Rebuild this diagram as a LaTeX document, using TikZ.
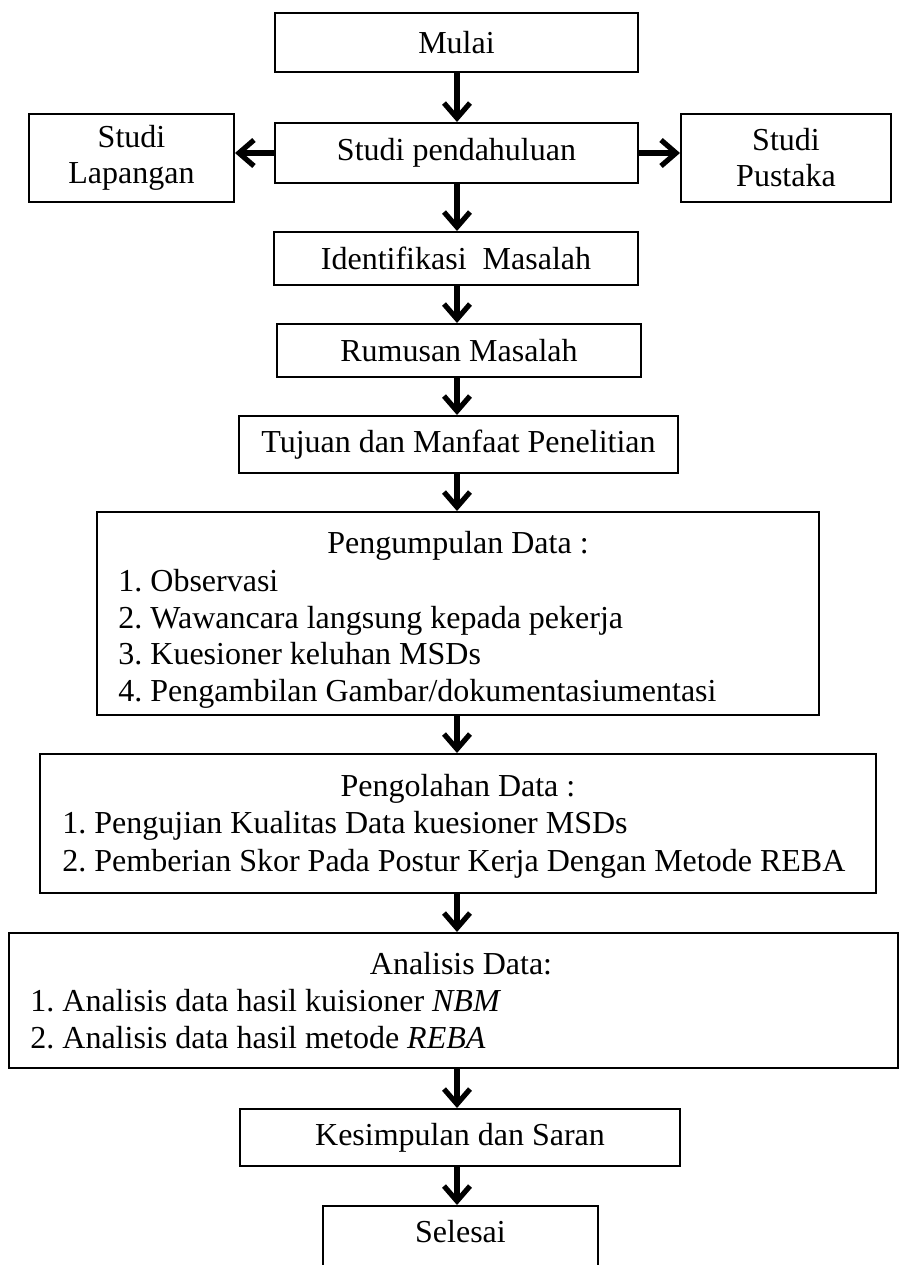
\documentclass[tikz,border=0pt]{standalone}
\usepackage{fontspec}
\setmainfont{Liberation Serif}
\usetikzlibrary{arrows.meta}
\frenchspacing
\begin{document}
\begin{tikzpicture}[x=0.5pt,y=-0.5pt,
  box/.style={draw=black, line width=1pt, rectangle, inner sep=0pt, align=center, font=\fontsize{16pt}{18.4pt}\selectfont},
  txt/.style={inner sep=0pt, font=\fontsize{16pt}{18.4pt}\selectfont},
  arr/.style={line width=2.6pt, -{Straight Barb[length=7.5pt,width=13pt]}}]
\clip (0,0) rectangle (901,1265);
\fill[white] (0,0) rectangle (901,1265);
\coordinate (ax) at (457,0);
% single-line boxes
\node[box, minimum width=181.5pt, minimum height=29.5pt] (mulai) at (456.5,42.5) {Mulai};
\node[box, minimum width=181.5pt, minimum height=30pt] (sp) at (456.5,153) {Studi pendahuluan};
\node[box, minimum width=102.5pt, minimum height=44pt, font=\fontsize{16pt}{18pt}\selectfont] (lap) at (131.5,158) {Studi\\Lapangan};
\node[box, minimum width=105pt, minimum height=44pt, font=\fontsize{16pt}{18pt}\selectfont] (pus) at (786,158) {Studi\\Pustaka};
\node[box, minimum width=182pt, minimum height=26.5pt] (ident) at (456,258.5) {Identifikasi\ \ Masalah};
\node[box, minimum width=182pt, minimum height=26.5pt] (rum) at (459,350.5) {Rumusan Masalah};
\node[box, minimum width=219.5pt, minimum height=28.5pt] (tuj) at (458.5,444.5) {Tujuan dan Manfaat Penelitian};
% multi-line boxes
\node[box, minimum width=361pt, minimum height=101.5pt] (pengum) at (458,613.5) {};
\node[txt, anchor=base] (pengumT) at (458,553) {Pengumpulan Data :};
\node[txt, anchor=base west] (pengum1) at (118,591) {1. Observasi};
\node[txt, anchor=base west] (pengum2) at (118,628) {2. Wawancara langsung kepada pekerja};
\node[txt, anchor=base west] (pengum3) at (118,664) {3. Kuesioner keluhan MSDs};
\node[txt, anchor=base west] (pengum4) at (118,701) {4. Pengambilan Gambar/dokumentasiumentasi};
\node[box, minimum width=418pt, minimum height=69.5pt] (pengol) at (458,823.5) {};
\node[txt, anchor=base] (pengolT) at (458,796) {Pengolahan Data :};
\node[txt, anchor=base west] (pengol1) at (62,833) {1. Pengujian Kualitas Data kuesioner MSDs};
\node[txt, anchor=base west] (pengol2) at (62,871) {2. Pemberian Skor Pada Postur Kerja Dengan Metode REBA};
\node[box, minimum width=444.5pt, minimum height=67.5pt] (anal) at (453.5,1000.5) {};
\node[txt, anchor=base] (analT) at (461,974) {Analisis Data:};
\node[txt, anchor=base west] (anal1) at (30,1011) {1. Analisis data hasil kuisioner \textit{NBM}};
\node[txt, anchor=base west] (anal2) at (30,1048) {2. Analisis data hasil metode \textit{REBA}};
\node[box, minimum width=220pt, minimum height=28.5pt] (kes) at (460,1137.5) {Kesimpulan dan Saran};
\node[box, minimum width=137.5pt, minimum height=42pt] (selbox) at (460.5,1248) {};
\node[txt] (sel) at (460.5,1232) {Selesai};
% connectors
\draw[arr] (mulai.south -| ax) -- (sp.north -| ax);
\draw[arr] (sp.west) -- (sp.west -| lap.east);
\draw[arr] (sp.east) -- (sp.east -| pus.west);
\draw[arr] (sp.south -| ax) -- (ident.north -| ax);
\draw[arr] (ident.south -| ax) -- (rum.north -| ax);
\draw[arr] (rum.south -| ax) -- (tuj.north -| ax);
\draw[arr] (tuj.south -| ax) -- (pengum.north -| ax);
\draw[arr] (pengum.south -| ax) -- (pengol.north -| ax);
\draw[arr] (pengol.south -| ax) -- (anal.north -| ax);
\draw[arr] (anal.south -| ax) -- (kes.north -| ax);
\draw[arr] (kes.south -| ax) -- (selbox.north -| ax);
\end{tikzpicture}
\end{document}
